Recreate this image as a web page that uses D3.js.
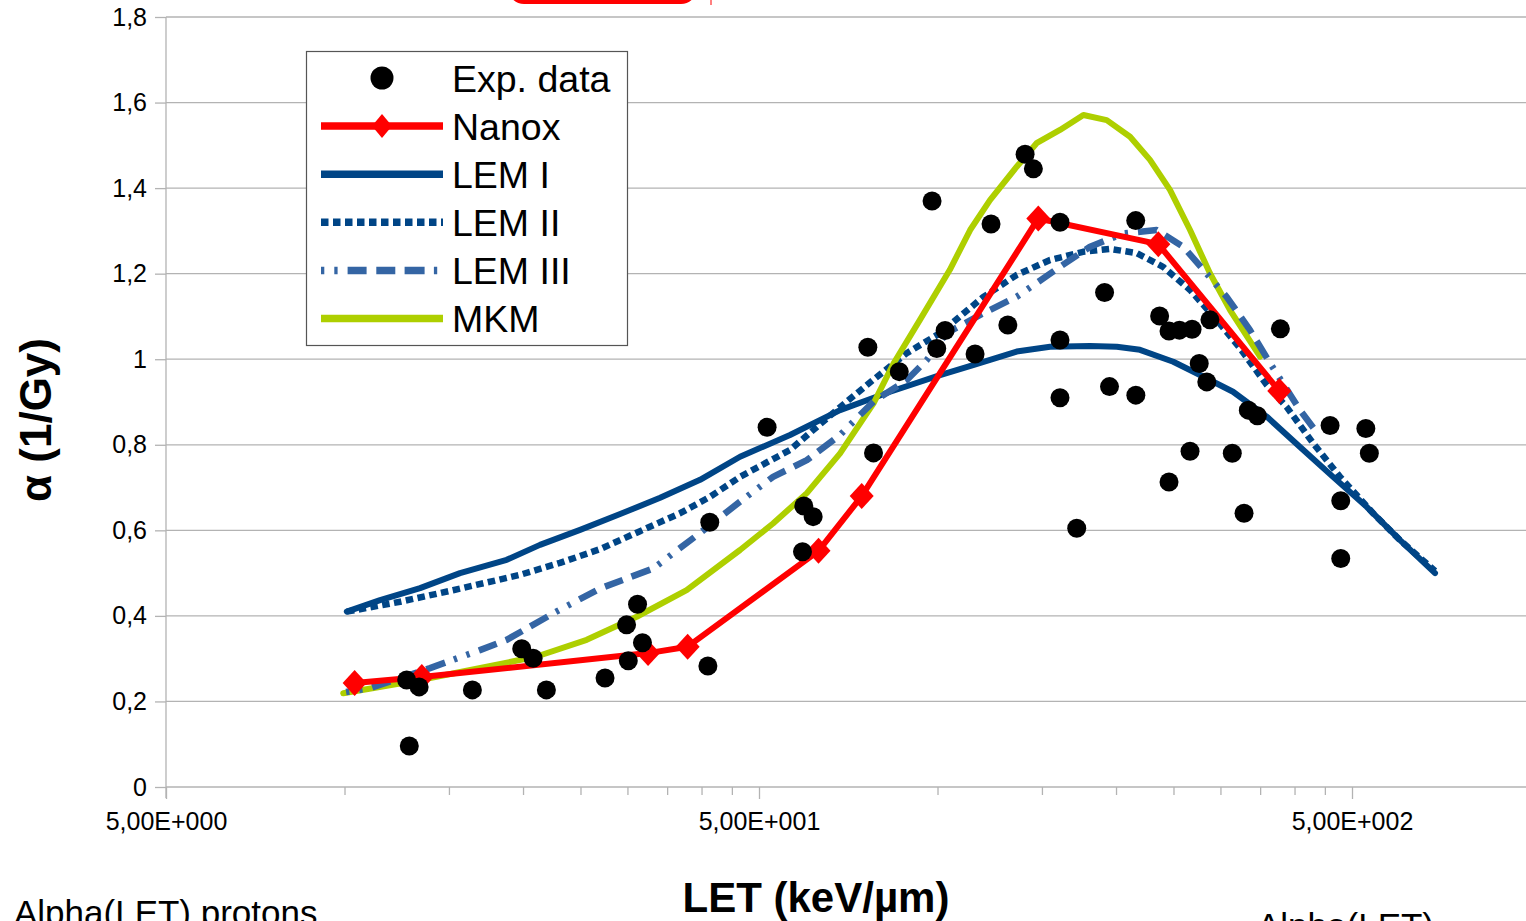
<!DOCTYPE html>
<html>
<head>
<meta charset="utf-8">
<script src="https://cdn.jsdelivr.net/npm/d3@7"></script>
<style>
  html, body { margin: 0; padding: 0; background: #ffffff; }
  svg { display: block; font-family: "Liberation Sans", Arial, sans-serif; }
</style>
</head>
<body>
<svg id="chart" width="1526" height="921"></svg>
<script>
// ---- Experimental alpha values vs LET ----
const expLET   = [12.73, 13.36, 16.43, 12.86, 19.9, 20.8, 21.9, 27.5, 29.9, 31.2, 31.8, 30.1, 41.0, 41.3,
                  51.6, 59.2, 59.5, 61.7, 76.3, 78.0, 86.2, 97.9, 99.7, 103.0, 115.7, 123.1, 131.4, 140.5,
                  145.1, 160.9, 160.9, 160.9, 171.7, 191.3, 195.0, 215.9, 216.0, 236.9, 245.7, 255.9, 268.7,
                  288.0, 378.6, 276.3, 284.5, 334.3, 346.2, 459.2, 527.6, 534.8, 266.6, 314.1, 245.7, 328.8,
                  478.6, 478.6];
const expAlpha = [0.250, 0.234, 0.227, 0.096, 0.323, 0.301, 0.227, 0.255, 0.379, 0.427, 0.337, 0.295, 0.283, 0.619,
                  0.841, 0.550, 0.657, 0.632, 1.028, 0.781, 0.971, 1.370, 1.025, 1.067, 1.012, 1.316, 1.080, 1.479,
                  1.445, 1.320, 1.045, 0.910, 0.605, 1.156, 0.936, 1.324, 0.916, 1.101, 1.066, 1.068, 1.070,
                  1.092, 1.071, 0.990, 0.947, 0.881, 0.868, 0.845, 0.838, 0.780, 0.785, 0.780, 0.713, 0.640,
                  0.669, 0.534];

// ---- Nanox ----
const nanoxLET   = [10.4, 13.5, 32.5, 37.9, 63.0, 74.5, 147.9, 235.7, 377.0];
const nanoxAlpha = [0.243, 0.257, 0.313, 0.328, 0.552, 0.680, 1.329, 1.269, 0.926];

// ---- LEM I ----
const lem1LET   = [10.09, 11.48, 13.41, 15.66, 18.77, 21.36, 24.96, 29.16, 34.06, 39.77, 46.45, 56.4, 68.5, 83.2,
                   101.0, 114.8, 136.0, 154.8, 180.8, 200.6, 219.5, 249.8, 277.1, 315.0, 359.0, 408.6, 464.5,
                   529.3, 602.5, 690.2];
const lem1Alpha = [0.410, 0.437, 0.465, 0.500, 0.531, 0.566, 0.601, 0.638, 0.676, 0.718, 0.772, 0.823, 0.881, 0.924,
                   0.963, 0.986, 1.018, 1.029, 1.031, 1.029, 1.022, 0.994, 0.963, 0.924, 0.866, 0.795, 0.725,
                   0.655, 0.577, 0.500];

// ---- LEM II ----
const lem2LET   = [10.09, 12.41, 15.24, 19.77, 23.09, 26.97, 31.5, 36.8, 41.3, 46.45, 56.4, 68.5, 77.8, 88.7,
                   101.0, 119.3, 136.0, 154.8, 175.9, 195.4, 216.9, 240.0, 266.6, 295.6, 323.6, 359.0, 388.1,
                   429.8, 477.3, 542.7, 602.5, 690.2];
const lem2Alpha = [0.410, 0.433, 0.460, 0.496, 0.524, 0.556, 0.598, 0.640, 0.678, 0.725, 0.788, 0.888, 0.951, 1.014,
                   1.061, 1.145, 1.197, 1.232, 1.251, 1.258, 1.248, 1.216, 1.162, 1.092, 1.026, 0.940, 0.888,
                   0.804, 0.725, 0.640, 0.577, 0.505];

// ---- LEM III ----
const lem3LET   = [10.06, 11.04, 13.94, 16.92, 18.77, 22.5, 26.97, 33.17, 39.77, 46.45, 52.8, 60.2, 68.5, 78.0,
                   88.7, 95.9, 103.6, 119.3, 136.0, 160.9, 180.8, 205.8, 234.2, 259.7, 280.7, 307.3, 336.5,
                   363.7, 408.6, 438.3];
const lem3Alpha = [0.222, 0.231, 0.278, 0.320, 0.344, 0.406, 0.464, 0.511, 0.594, 0.667, 0.725, 0.764, 0.823, 0.901,
                   0.951, 0.998, 1.061, 1.107, 1.146, 1.216, 1.263, 1.294, 1.302, 1.263, 1.209, 1.146, 1.068,
                   0.991, 0.881, 0.825];

// ---- MKM ----
const mkmLET   = [9.95, 13.41, 17.37, 21.09, 25.61, 31.1, 37.75, 46.45, 52.8, 60.2, 68.5, 78.0, 84.3, 93.4,
                  104.9, 113.5, 122.6, 136.0, 146.9, 160.9, 176.2, 192.9, 211.2, 228.2, 246.6, 266.6, 288.0,
                  311.4, 349.9];
const mkmAlpha = [0.219, 0.250, 0.281, 0.305, 0.344, 0.398, 0.460, 0.554, 0.616, 0.687, 0.780, 0.897, 0.990, 1.092,
                  1.209, 1.302, 1.372, 1.450, 1.505, 1.536, 1.571, 1.559, 1.520, 1.466, 1.396, 1.302, 1.201,
                  1.115, 1.006];

// ---- Axis ticks ----
const xMajorTicks  = [5, 50, 500];
const xMajorLabels = ["5,00E+000", "5,00E+001", "5,00E+002"];
const xMinorTicks  = [10, 15, 20, 25, 30, 35, 40, 45, 100, 150, 200, 250, 300, 350, 400, 450];
const yTickValues  = [0, 0.2, 0.4, 0.6, 0.8, 1.0, 1.2, 1.4, 1.6, 1.8];
const yTickLabels  = ["0", "0,2", "0,4", "0,6", "0,8", "1", "1,2", "1,4", "1,6", "1,8"];

const W = 1526, H = 921;
const FONT = "Liberation Sans, Arial, sans-serif";
const GRID = "#b3b3b3";
const C_RED = "#ff0000", C_LEM = "#004586", C_LEM3 = "#3465a4", C_MKM = "#aecf00";
const DASH_LEM2 = "7.5,4.5";
const DASH_LEM3 = "3.3,10,3.3,10,19,9.7,19,9.3,20,9.3";

const svg = d3.select("#chart");

const x = d3.scaleLog().domain([5, 5000]).range([166, 1945]);
const y = d3.scaleLinear().domain([0, 1.8]).range([787, 17]);

// partial shape peeking in at the top edge
svg.append("rect")
  .attr("x", 508).attr("y", -40).attr("width", 189).attr("height", 44).attr("rx", 16)
  .attr("fill", C_RED);
svg.append("line")
  .attr("x1", 711).attr("x2", 711).attr("y1", 0).attr("y2", 5)
  .attr("stroke", C_RED).attr("stroke-width", 1);

// horizontal gridlines
svg.append("g").selectAll("line").data(yTickValues).join("line")
  .attr("x1", 166).attr("x2", W)
  .attr("y1", d => y(d)).attr("y2", d => y(d))
  .attr("stroke", GRID).attr("stroke-width", 1.3);

// left axis line
svg.append("line")
  .attr("x1", 166).attr("x2", 166).attr("y1", y(1.8)).attr("y2", y(0) + 11)
  .attr("stroke", GRID).attr("stroke-width", 1.3);

// y axis ticks + labels
const gy = svg.append("g").attr("transform", "translate(166,0)")
  .call(d3.axisLeft(y).tickValues(yTickValues)
    .tickFormat((d, i) => yTickLabels[i]).tickSize(11).tickPadding(8));
gy.select(".domain").remove();
gy.attr("font-size", 25).attr("font-family", FONT).style("color", GRID);
gy.selectAll("line").attr("stroke-width", 1.3);
gy.selectAll("text").attr("fill", "#000");

// x axis major ticks + labels
const gx = svg.append("g").attr("transform", `translate(0,${y(0)})`)
  .call(d3.axisBottom(x).tickValues(xMajorTicks)
    .tickFormat((d, i) => xMajorLabels[i]).tickSize(12).tickPadding(13));
gx.select(".domain").remove();
gx.attr("font-size", 25).attr("font-family", FONT).style("color", GRID);
gx.selectAll("line").attr("stroke-width", 1.3);
gx.selectAll("text").attr("fill", "#000");

// x axis minor ticks
const gxm = svg.append("g").attr("transform", `translate(0,${y(0)})`)
  .call(d3.axisBottom(x).tickValues(xMinorTicks).tickFormat("").tickSize(8));
gxm.select(".domain").remove();
gxm.style("color", GRID);
gxm.selectAll("line").attr("stroke-width", 1.3);

// series lines
const line = d3.line().x(d => x(d[0])).y(d => y(d[1])).curve(d3.curveLinear);
const plot = svg.append("g");

function drawLine(lets, alphas, color, dash, width) {
  plot.append("path")
    .datum(d3.zip(lets, alphas))
    .attr("d", line)
    .attr("fill", "none")
    .attr("stroke", color)
    .attr("stroke-width", width)
    .attr("stroke-linejoin", "round")
    .attr("stroke-linecap", dash ? "butt" : "round")
    .attr("stroke-dasharray", dash);
}

drawLine(lem1LET, lem1Alpha, C_LEM, null, 6);
drawLine(lem2LET, lem2Alpha, C_LEM, DASH_LEM2, 6.5);
drawLine(mkmLET, mkmAlpha, C_MKM, null, 6);
drawLine(lem3LET, lem3Alpha, C_LEM3, DASH_LEM3, 6.5);
drawLine(nanoxLET, nanoxAlpha, C_RED, null, 6);

// diamond marker
const diamond = (hw, hh) => `M0,${-hh}L${hw},0L0,${hh}L${-hw},0Z`;
plot.append("g").selectAll("path").data(d3.zip(nanoxLET, nanoxAlpha)).join("path")
  .attr("transform", d => `translate(${x(d[0])},${y(d[1])})`)
  .attr("d", diamond(12, 13))
  .attr("fill", C_RED);

// experimental points
plot.append("g").selectAll("circle").data(d3.zip(expLET, expAlpha)).join("circle")
  .attr("cx", d => x(d[0])).attr("cy", d => y(d[1]))
  .attr("r", 9.5).attr("fill", "#000");

// legend
const lg = svg.append("g");
lg.append("rect")
  .attr("x", 306.5).attr("y", 51.5).attr("width", 321).attr("height", 294)
  .attr("fill", "#fff").attr("stroke", "#555").attr("stroke-width", 1.2);

const legendItems = [
  { name: "Exp. data", kind: "dot" },
  { name: "Nanox", kind: "diamond", color: C_RED },
  { name: "LEM I", kind: "line", color: C_LEM, dash: null },
  { name: "LEM II", kind: "line", color: C_LEM, dash: DASH_LEM2 },
  { name: "LEM III", kind: "line", color: C_LEM3, dash: DASH_LEM3 },
  { name: "MKM", kind: "line", color: C_MKM, dash: null }
];
legendItems.forEach((it, i) => {
  const cy = 78 + i * 48.1;
  if (it.kind === "dot") {
    lg.append("circle").attr("cx", 382).attr("cy", cy).attr("r", 11.5).attr("fill", "#000");
  } else {
    lg.append("line")
      .attr("x1", 321).attr("x2", 443).attr("y1", cy).attr("y2", cy)
      .attr("stroke", it.color).attr("stroke-width", 7.5)
      .attr("stroke-dasharray", it.dash);
    if (it.kind === "diamond") {
      lg.append("path").attr("transform", `translate(382,${cy})`)
        .attr("d", diamond(10, 12)).attr("fill", it.color);
    }
  }
  lg.append("text")
    .attr("x", 452).attr("y", cy + 13.5)
    .attr("font-family", FONT).attr("font-size", 37.5).attr("fill", "#000")
    .text(it.name);
});

// axis titles
svg.append("text")
  .attr("transform", "translate(51,420) rotate(-90)")
  .attr("text-anchor", "middle")
  .attr("font-family", FONT).attr("font-size", 44).attr("font-weight", "bold")
  .text("α (1/Gy)");

svg.append("text")
  .attr("x", 816).attr("y", 912)
  .attr("text-anchor", "middle")
  .attr("font-family", FONT).attr("font-size", 42).attr("font-weight", "bold")
  .text("LET (keV/µm)");

// captions along the bottom edge
svg.append("text")
  .attr("x", 14).attr("y", 925)
  .attr("font-family", FONT).attr("font-size", 35)
  .text("Alpha(LET) protons");
svg.append("text")
  .attr("x", 1257).attr("y", 938)
  .attr("font-family", FONT).attr("font-size", 35)
  .text("Alpha(LET)");
</script>
</body>
</html>
